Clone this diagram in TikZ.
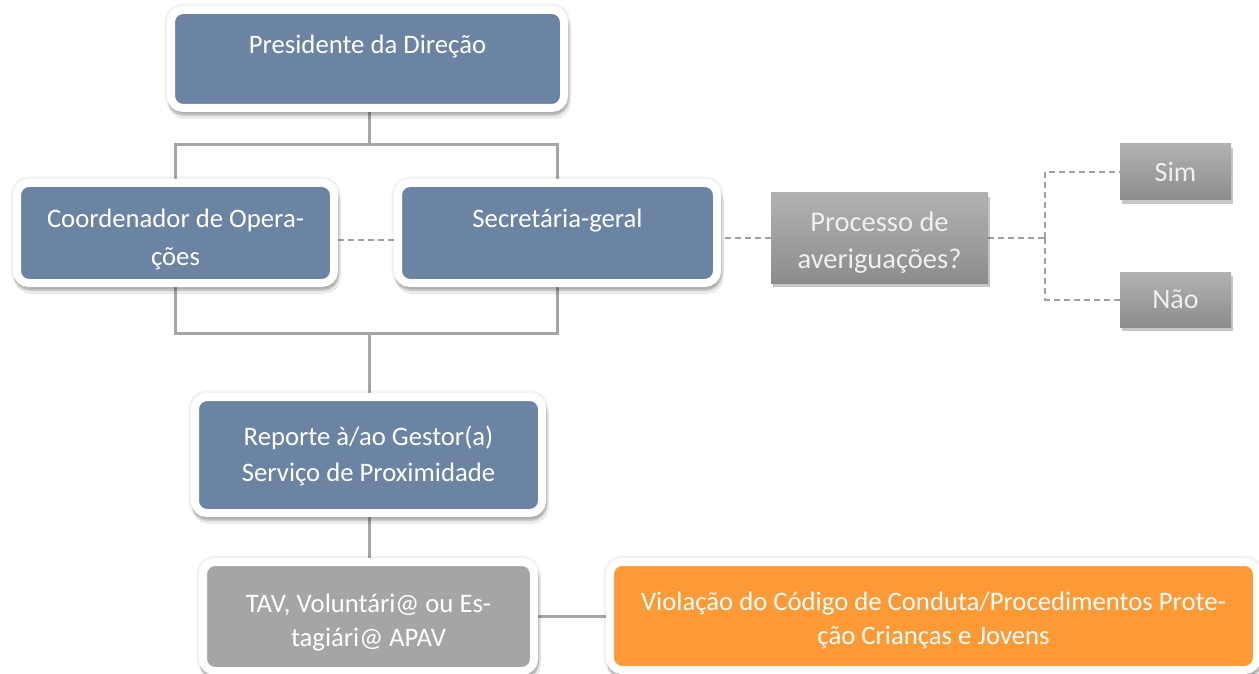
\documentclass[tikz,border=0pt]{standalone}
\usepackage{fontspec}
\setmainfont{Carlito}
\usetikzlibrary{shadows,backgrounds}
\definecolor{boxblue}{HTML}{6B84A3}
\definecolor{boxgray}{HTML}{A5A5A5}
\definecolor{boxorange}{HTML}{FD9A36}
\definecolor{linegray}{HTML}{A6A6A6}
\definecolor{dashgray}{HTML}{A0A0A0}
\definecolor{gtop}{HTML}{B2B2B2}
\definecolor{gbot}{HTML}{8C8C8C}
\begin{document}
\begin{tikzpicture}[x=1pt,y=-1pt,
  framed/.style={draw=white, line width=8pt, rounded corners=12pt, text=white, align=center,
    font=\fontsize{26.7}{36}\selectfont, inner sep=0pt,
    general shadow={shadow xshift=0pt, shadow yshift=0pt, fill=black, draw=black, line width=13pt, opacity=.05},
    general shadow={shadow xshift=2pt, shadow yshift=-6pt, fill=black, draw=black, line width=10pt, opacity=.08},
    general shadow={shadow xshift=1pt, shadow yshift=-4pt, fill=black, draw=black, line width=8pt, opacity=.14}},
  gbox/.style={top color=gtop, bottom color=gbot, text=white!94!black, align=center, inner sep=0pt,
    font=\fontsize{28}{36}\selectfont,
    general shadow={shadow xshift=2pt, shadow yshift=-4pt, fill=black, opacity=.22}},
  conn/.style={draw=linegray, line width=3pt},
  dashline/.style={draw=dashgray, line width=2pt, dash pattern=on 6pt off 4pt}]
\useasboundingbox (0,0) rectangle (1259,674);

\node[framed, fill=boxblue, minimum width=393pt, minimum height=98pt, text height=20pt, text depth=30pt] (pres) at (367.5,59) {Presidente da Direção};
\node[framed, fill=boxblue, minimum width=317pt, minimum height=100pt, text height=70pt, text depth=6pt, font=\fontsize{26.7}{38}\selectfont] (coord) at (175.5,233) {Coordenador de Opera-\\ções};
\node[framed, fill=boxblue, minimum width=319pt, minimum height=100pt, text height=20pt, text depth=32pt] (sec) at (557.5,233) {Secretária-geral};
\node[framed, fill=boxblue, minimum width=347pt, minimum height=116pt, text height=60pt, text depth=8pt] (rep) at (368.5,455) {Reporte à/ao Gestor(a)\\Serviço de Proximidade};
\node[framed, fill=boxgray, minimum width=331pt, minimum height=109pt, text height=65pt, text depth=6pt, font=\fontsize{26.7}{34}\selectfont] (tav) at (368.5,616.5) {TAV, Voluntári@ ou Es-\\tagiári@ APAV};
\node[framed, fill=boxorange, minimum width=647pt, minimum height=108pt, text height=62pt, text depth=6pt, font=\fontsize{26.7}{34}\selectfont] (viol) at (933.5,616) {Violação do Código de Conduta/Procedimentos Prote-\\ção Crianças e Jovens};

\node[gbox, minimum width=217pt, minimum height=90pt, text height=66pt, text depth=6pt, font=\fontsize{28.5}{37}\selectfont] (proc) at (879.5,238) {Processo de\\averiguações?};
\node[gbox, minimum width=111pt, minimum height=56pt] (sim) at (1175.5,172) {Sim};
\node[gbox, minimum width=111pt, minimum height=55pt] (nao) at (1175.5,299.5) {Não};

\coordinate (jt) at (369,145);
\coordinate (jb) at (369,333);
\coordinate (jp) at (1045,238);

\begin{scope}[on background layer]
  \fill[white] (0,0) rectangle (1259,674);
  \draw[conn] (jt |- pres.south) -- (jt);
  \draw[conn] (coord.north) |- (jt) -| (sec.north);
  \draw[conn] (coord.south) |- (jb) -| (sec.south);
  \draw[conn] (jb) -- (jb |- rep.north);
  \draw[conn] (jb |- rep.south) -- (jb |- tav.north);
  \draw[conn] (tav.east) -- (tav.east -| viol.west);
  \draw[dashline] ([yshift=-7pt]coord.east) -- ([yshift=-7pt]sec.west);
  \draw[dashline] (proc.west) -- (proc.west -| sec.east);
  \draw[dashline] (proc.east) -- (jp);
  \draw[dashline] (jp) |- (sim.west);
  \draw[dashline] (jp) |- (nao.west);
\end{scope}
\end{tikzpicture}
\end{document}
